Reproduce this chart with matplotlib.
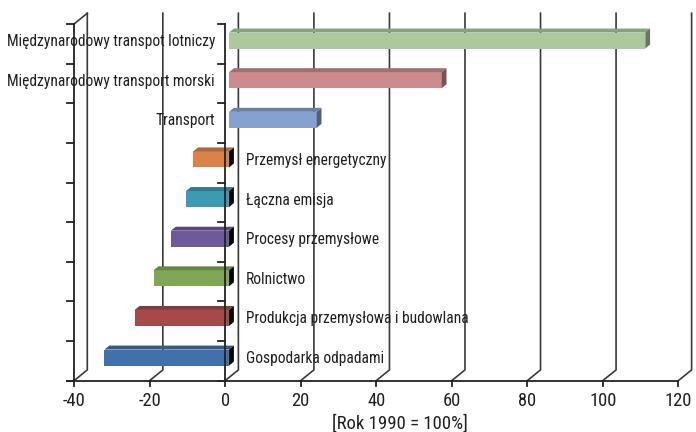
import matplotlib.pyplot as plt
from matplotlib.patches import Polygon
import matplotlib.colors as mcolors

# categories listed bottom to top
categories = ["Gospodarka odpadami", "Produkcja przemysłowa i budowlana", "Rolnictwo",
              "Procesy przemysłowe", "Łączna emisja", "Przemysł energetyczny",
              "Transport", "Międzynarodowy transport morski",
              "Międzynarodowy transpot lotniczy"]
values = [-33, -25, -20, -15.4, -11.4, -9.5, 23.2, 56.3, 110.2]
bar_colors = ["#4270AA", "#A44A4A", "#80A755", "#6E5A9B", "#3E9AB3",
              "#D9824A", "#86A0CF", "#CC8C8E", "#ABC99A"]
x_ticks = [-40, -20, 0, 20, 40, 60, 80, 100, 120]
x_label = "[Rok 1990 = 100%]"

plt.rcParams['font.family'] = ['Roboto Condensed', 'DejaVu Sans']

W, H = 696, 432
PX_X = 604.3 / 160.0   # pixels per percent
PX_Y = 39.63           # pixels per category
X0_PX, Y0_PX = 74, 380.7
LINE = "#3a3a3a"
TXT = "#231f20"

fig = plt.figure(figsize=(W / 100, H / 100), dpi=100)
ax = fig.add_axes([0, 0, 1, 1])
ax.set_xlim(x_ticks[0] - X0_PX / PX_X, x_ticks[0] + (W - X0_PX) / PX_X)
ax.set_ylim(-(H - Y0_PX) / PX_Y, Y0_PX / PX_Y)
ax.axis('off')


def off(dx, dy):
    """pixel offset -> data offset (dy measured upwards)"""
    return dx / PX_X, dy / PX_Y


n = len(categories)
xmin, xmax = x_ticks[0], x_ticks[-1]
wx, wy = off(13.3, 10.8)

# back wall gridlines and floor diagonals
for v in x_ticks:
    ax.plot([v, v + wx, v + wx], [0, wy, n + wy], color=LINE, lw=1.2,
            zorder=1, solid_joinstyle='miter')
ax.plot([xmin, xmin + wx], [n, n + wy], color=LINE, lw=1.2, zorder=1)

# front axis lines with category ticks
tk, _ = off(7, 0)
for xa in (xmin, 0):
    ax.plot([xa, xa], [0, n], color="#222222", lw=1.3, zorder=5)
    for k in range(n + 1):
        ax.plot([xa - tk, xa], [k, k], color="#222222", lw=1.3, zorder=5)
ax.plot([xmin - tk, xmax], [0, 0], color="#222222", lw=1.3, zorder=5)
_, td = off(0, 5)
for v in x_ticks:
    ax.plot([v, v], [0, -td], color="#222222", lw=1.3, zorder=5)
    ax.text(v, -(406 - Y0_PX) / PX_Y, str(v), ha='center', va='baseline',
            fontsize=13.3, color=TXT)

ax.text(46.3, -(429 - Y0_PX) / PX_Y, x_label, ha='center', va='baseline',
        fontsize=13.5, color=TXT)

# 3D bars
bx, by = off(4, 3.3)        # bar front face offset into depth
ddx, ddy = off(4.8, 4)      # bar depth
bh = 16 / PX_Y
for i, (cat, v, c) in enumerate(zip(categories, values, bar_colors)):
    base = mcolors.to_rgb(c)
    top_c = tuple(ch * 0.8 for ch in base)
    side_c = tuple(ch * 0.6 for ch in base) if v > 0 else (0, 0, 0)
    xa, xb = sorted([0 + bx, v + bx])
    y0 = i + 0.5 - bh / 2 + by
    y1 = y0 + bh
    ax.add_patch(Polygon([(xa, y0), (xb, y0), (xb, y1), (xa, y1)],
                         closed=True, fc=c, ec='none', zorder=3))
    ax.add_patch(Polygon([(xa, y1), (xb, y1), (xb + ddx, y1 + ddy), (xa + ddx, y1 + ddy)],
                         closed=True, fc=top_c, ec='none', zorder=3))
    ax.add_patch(Polygon([(xb, y0), (xb + ddx, y0 + ddy), (xb + ddx, y1 + ddy), (xb, y1)],
                         closed=True, fc=side_c, ec='none', zorder=3))
    yc = (y0 + y1) / 2
    _, bl = off(0, 5.5)
    if v > 0:
        lx, _ = off(-10, 0)
        ax.text(lx, yc - bl, cat, ha='right', va='baseline', fontsize=11.2, color=TXT)
    else:
        lx, _ = off(20.5, 0)
        ax.text(lx, yc - bl, cat, ha='left', va='baseline', fontsize=11.2, color=TXT)

fig.savefig("out.png", dpi=100)
